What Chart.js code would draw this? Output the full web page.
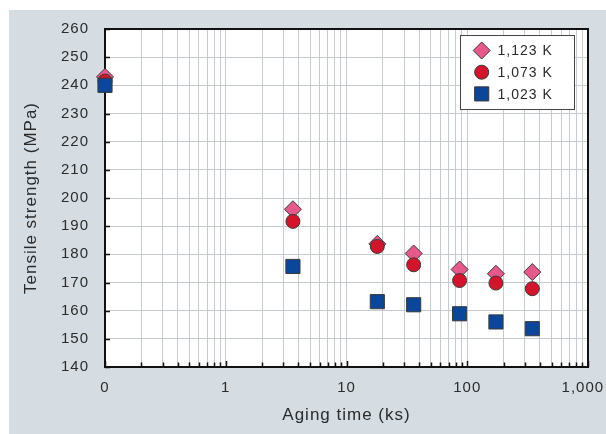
<!DOCTYPE html>
<html>
<head>
<meta charset="utf-8">
<script src="https://cdn.jsdelivr.net/npm/chart.js@4"></script>
<style>
    body { margin: 0; background: #ffffff; }
    #frame { position: absolute; left: 9px; top: 10px; width: 597px; height: 424px; background: #d5dde3; }
</style>
</head>
<body>
<div id="frame"><canvas id="agingChart" width="597" height="424"></canvas></div>
<script>
// aging time in ks; 0.1 sits on the axis origin labelled "0"
const agingTime = [0.1, 3.6, 18, 36, 86.4, 172.8, 345.6];
const strength1123 = [243, 196, 183.7, 180.3, 174.6, 173.1, 173.7];
const strength1073 = [241.5, 191.7, 182.8, 176.3, 170.7, 169.8, 167.8];
const strength1023 = [240, 175.7, 163.2, 162.1, 158.9, 156, 153.6];

const seriesLabels = ['1,123 K', '1,073 K', '1,023 K'];
const xDecades = [0.1, 1, 10, 100, 1000];
const xTickLabels = ['0', '1', '10', '100', '1,000'];

const textColor = '#2b2b2b';
const edgeColor = '#3a3a3a';

function points(values) {
    return agingTime.map((t, i) => ({ x: t, y: values[i] }));
}

// every 1..9 step inside each decade, like log paper
const xGridValues = [];
xDecades.forEach((d, i) => {
    if (i === xDecades.length - 1) { xGridValues.push(d); return; }
    for (let k = 1; k < 10; k++) xGridValues.push(Math.round(d * k * 1000) / 1000);
});

function noPadding(scale) {
    scale.paddingLeft = 0;
    scale.paddingRight = 0;
    scale.paddingTop = 0;
    scale.paddingBottom = 0;
}

const spacing = {
    id: 'spacing',
    beforeUpdate(chart) { chart.ctx.letterSpacing = '1px'; },
    beforeDraw(chart) {
        const ctx = chart.ctx;
        ctx.letterSpacing = '1px';
        const a = chart.chartArea;
        ctx.save();
        ctx.fillStyle = '#ffffff';
        ctx.fillRect(a.left, a.top, a.right - a.left, a.bottom - a.top);
        ctx.restore();
    }
};

const frame = {
    id: 'frame',
    beforeDatasetsDraw(chart) {
        const ctx = chart.ctx;
        const a = chart.chartArea;
        const x = chart.scales.x, y = chart.scales.y;
        ctx.save();
        ctx.strokeStyle = '#111111';
        ctx.lineWidth = 1.5;
        ctx.beginPath();
        x.ticks.forEach(t => {
            const px = Math.round(x.getPixelForValue(t.value)) + 0.5;
            const len = xDecades.includes(t.value) ? 6 : 4.5;
            ctx.moveTo(px, a.bottom);
            ctx.lineTo(px, a.bottom - len);
        });
        y.ticks.forEach(t => {
            const py = Math.round(y.getPixelForValue(t.value)) + 0.5;
            ctx.moveTo(a.left, py);
            ctx.lineTo(a.left + 5, py);
        });
        ctx.stroke();
        ctx.lineWidth = 2;
        ctx.strokeRect(a.left, a.top, a.right - a.left, a.bottom - a.top);
        ctx.restore();
    }
};

const boxLegend = {
    id: 'boxLegend',
    afterDatasetsDraw(chart) {
        const ctx = chart.ctx;
        const a = chart.chartArea;
        const w = 114, h = 74;
        const left = a.right - 14 - w, top = a.top + 6;
        ctx.save();
        ctx.fillStyle = '#ffffff';
        ctx.fillRect(left, top, w, h);
        ctx.strokeStyle = '#444444';
        ctx.lineWidth = 1;
        ctx.strokeRect(left + 0.5, top + 0.5, w, h);
        ctx.font = '14px "Liberation Sans", Arial, sans-serif';
        ctx.textBaseline = 'middle';
        chart.data.datasets.forEach((ds, i) => {
            const cy = top + 15.5 + i * 21.7;
            const cx = left + 21.7;
            ctx.fillStyle = ds.backgroundColor;
            ctx.strokeStyle = ds.borderColor;
            ctx.lineWidth = ds.borderWidth;
            Chart.helpers.drawPoint(ctx, { pointStyle: ds.pointStyle, radius: ds.pointRadius, borderWidth: ds.borderWidth, rotation: 0 }, cx, cy);
            ctx.fillStyle = textColor;
            ctx.fillText(ds.label, left + 37.5, cy + 1);
        });
        ctx.restore();
    }
};

const config = {
    type: 'scatter',
    data: {
        datasets: [{
            label: seriesLabels[0],
            data: points(strength1123),
            pointStyle: 'rectRot',
            pointRadius: 8.5,
            backgroundColor: '#e8588a',
            borderColor: edgeColor,
            borderWidth: 1,
            order: 3
        }, {
            label: seriesLabels[1],
            data: points(strength1073),
            pointStyle: 'circle',
            pointRadius: 7,
            backgroundColor: '#d3142b',
            borderColor: edgeColor,
            borderWidth: 1,
            order: 2
        }, {
            label: seriesLabels[2],
            data: points(strength1023),
            pointStyle: 'rect',
            pointRadius: 10,
            backgroundColor: '#0a4699',
            borderColor: edgeColor,
            borderWidth: 1,
            order: 1
        }]
    },
    options: {
        responsive: false,
        animation: false,
        clip: false,
        layout: { autoPadding: false, padding: { left: 0, top: 19, right: 18, bottom: 0 } },
        plugins: {
            legend: { display: false },
            tooltip: { enabled: false }
        },
        scales: {
            x: {
                type: 'logarithmic',
                min: 0.1,
                max: 1000,
                afterBuildTicks(scale) {
                    scale.ticks = xGridValues.map(v => ({ value: v, major: false }));
                },
                afterFit(scale) { scale.height = 67; noPadding(scale); },
                border: { display: false },
                grid: { color: '#c6cad1', lineWidth: 1, drawTicks: false },
                ticks: {
                    autoSkip: false,
                    maxRotation: 0,
                    padding: 12,
                    color: textColor,
                    font: { family: '"Liberation Sans", Arial, sans-serif', size: 15 },
                    callback(value) {
                        const i = xDecades.indexOf(value);
                        if (i < 0) return '';
                        // last label sits a little left of its tick, as in the source figure
                        return i === xDecades.length - 1 ? xTickLabels[i] + '\u00a0\u00a0' : xTickLabels[i];
                    }
                },
                title: {
                    display: true,
                    text: 'Aging time (ks)',
                    color: textColor,
                    font: { family: '"Liberation Sans", Arial, sans-serif', size: 17 },
                    padding: { bottom: 8 }
                }
            },
            y: {
                min: 140,
                max: 260,
                afterFit(scale) { scale.width = 96; noPadding(scale); },
                border: { display: false },
                grid: { color: '#c6cad1', lineWidth: 1, drawTicks: false },
                ticks: {
                    stepSize: 10,
                    padding: 16,
                    color: textColor,
                    font: { family: '"Liberation Sans", Arial, sans-serif', size: 15 }
                },
                title: {
                    display: true,
                    text: 'Tensile strength (MPa)',
                    color: textColor,
                    font: { family: '"Liberation Sans", Arial, sans-serif', size: 17 },
                    padding: { top: 12 }
                }
            }
        }
    },
    plugins: [spacing, frame, boxLegend]
};

const context = document.getElementById('agingChart').getContext('2d');
const agingChart = new Chart(context, config);
</script>
</body>
</html>
